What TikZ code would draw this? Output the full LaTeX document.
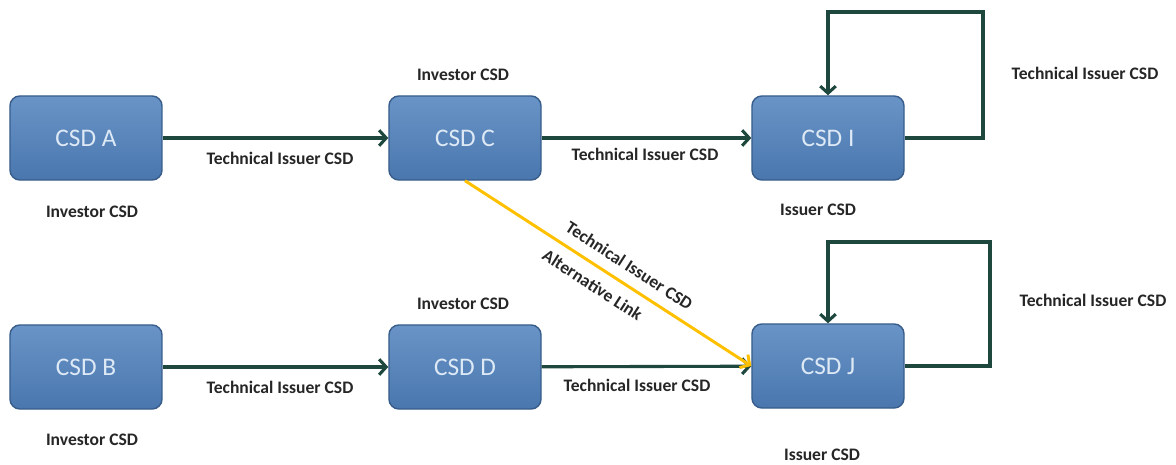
\documentclass[tikz,border=0pt]{standalone}
\usepackage{fontspec}
\setmainfont{Carlito}
\usetikzlibrary{arrows.meta}
\definecolor{csdblue}{RGB}{79,129,189}
\definecolor{csdedge}{RGB}{56,93,138}
\definecolor{csdtext}{RGB}{222,233,246}
\definecolor{linkgreen}{RGB}{30,72,62}
\definecolor{altyellow}{RGB}{255,192,0}
\tikzset{
    csd/.style={draw=csdedge, line width=1pt, rounded corners=7pt,
        top color=csdblue!85!white, bottom color=csdblue!92!black,
        minimum width=3.8cm, minimum height=2.1cm,
        text=csdtext, font=\fontsize{18}{20}\selectfont},
    link/.style={draw=linkgreen, line width=2.2pt,
        -{Straight Barb[length=5pt,width=11pt,line width=2.2pt]}},
    altlink/.style={draw=altyellow, line width=2.1pt,
        -{Straight Barb[length=5pt,width=11pt,line width=2.1pt]}},
    role/.style={font=\fontsize{12.5}{14}\selectfont\bfseries, text=black!85}
}
\begin{document}
\begin{tikzpicture}[x=0.025cm,y=-0.025cm]
    \useasboundingbox (0,0) rectangle (1176,465);

    % the CSD boxes
    \node[csd] (A) at (86,138) {CSD A};
    \node[csd] (C) at (465,138) {CSD C};
    \node[csd] (I) at (828,138) {CSD I};
    \node[csd] (B) at (86,367) {CSD B};
    \node[csd] (D) at (465,367) {CSD D};
    \node[csd] (J) at (828,366) {CSD J};

    % roles of the CSDs
    \node[role] (roleA) at (92,212) {Investor CSD};
    \node[role] (roleC) at (463,75) {Investor CSD};
    \node[role] (roleI) at (818,210) {Issuer CSD};
    \node[role] (roleB) at (92,440) {Investor CSD};
    \node[role] (roleD) at (463,304) {Investor CSD};
    \node[role] (roleJ) at (822,455) {Issuer CSD};

    % links along the rows
    \draw[link] (A) -- (C);
    \node[role] (labAC) at (280,158) {Technical Issuer CSD};
    \draw[link] (C) -- (I);
    \node[role] (labCI) at (645,154) {Technical Issuer CSD};
    \draw[link] (B) -- (D);
    \node[role] (labBD) at (280,387) {Technical Issuer CSD};
    \draw[link] (D) -- (J);
    \node[role] (labDJ) at (637,385) {Technical Issuer CSD};

    % self links of the issuer CSDs
    \coordinate (loopI) at (983,12);
    \draw[link] (I.east) -| (loopI) -| (I.north);
    \node[role] (labI) at (1085,73) {Technical Issuer CSD};
    \coordinate (loopJ) at (990,242);
    \draw[link] (J.east) -| (loopJ) -| (J.north);
    \node[role] (labJ) at (1093,300) {Technical Issuer CSD};

    % alternative link
    \draw[altlink] (C.south) -- (J.west)
        node[role, sloped, above=4pt, pos=0.54] (labCJ) {Technical Issuer CSD}
        node[role, sloped, below=4pt, pos=0.48] (altCJ) {Alternative Link};
\end{tikzpicture}
\end{document}
